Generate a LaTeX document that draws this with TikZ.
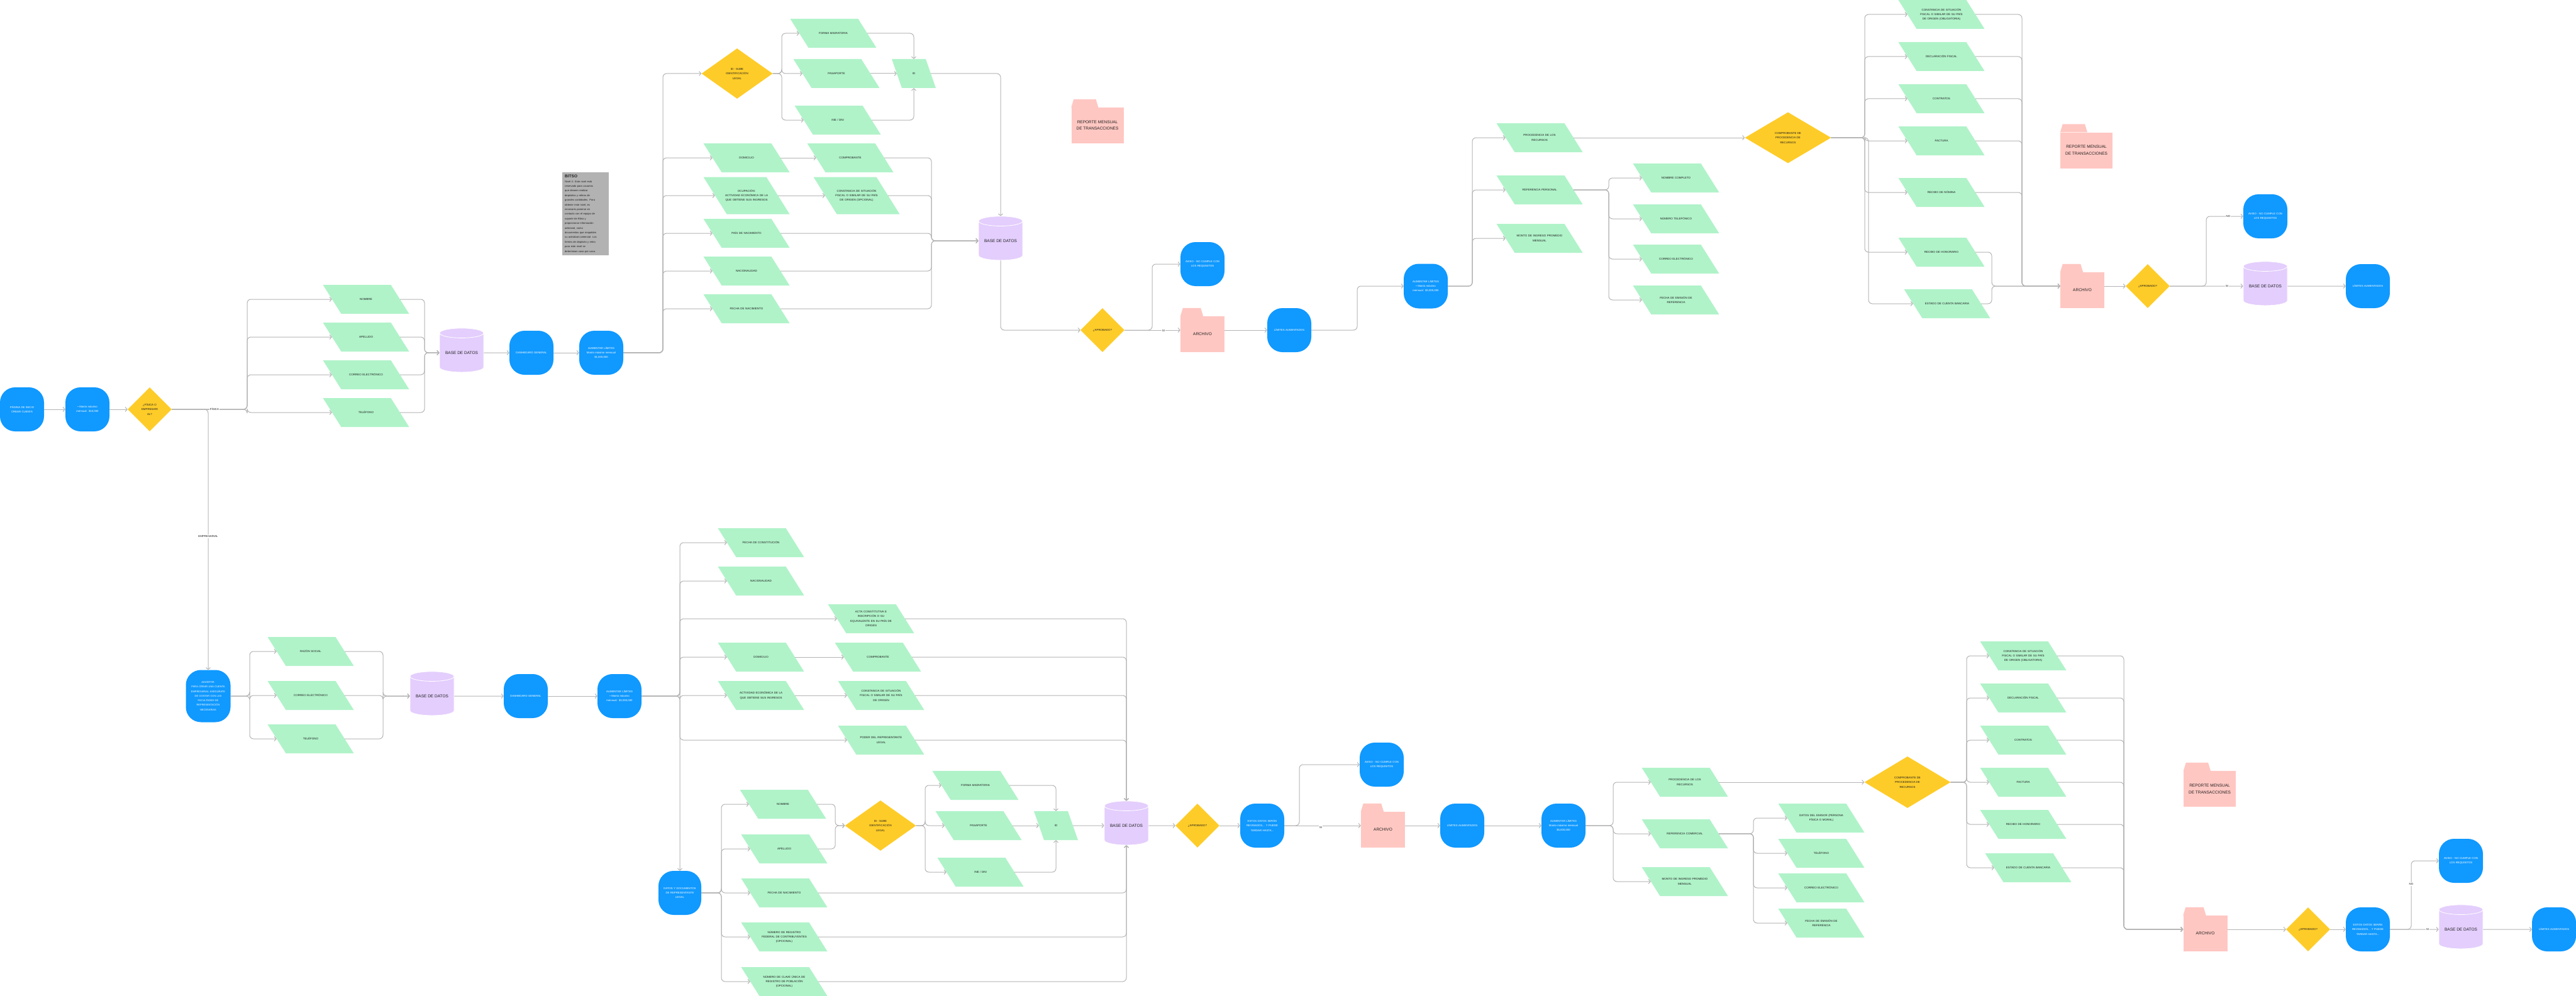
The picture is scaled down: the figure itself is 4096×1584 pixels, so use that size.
\documentclass[tikz,border=0pt]{standalone}
\usepackage{fontspec}
\setmainfont{Liberation Sans}
\usetikzlibrary{shapes.geometric,arrows.meta,calc}
\definecolor{cblue}{RGB}{16,153,255}
\definecolor{cgreen}{RGB}{176,243,201}
\definecolor{cyel}{RGB}{254,204,41}
\definecolor{cpur}{RGB}{228,206,253}
\definecolor{cpink}{RGB}{255,199,194}
\definecolor{cline}{RGB}{180,180,180}
\definecolor{cnote}{RGB}{178,178,178}
\definecolor{ctext}{RGB}{30,30,30}
\tikzset{
 blu/.style={rectangle, rounded corners=24pt, fill=cblue, text=white, minimum width=70pt, minimum height=70pt, inner sep=0pt, text width=66pt, align=center, font=\fontsize{4.3}{7.3}\selectfont},
 dia/.style={diamond, fill=cyel, inner sep=0pt, minimum width=70pt, minimum height=70pt, align=center, text=ctext, font=\fontsize{4.4}{7.5}\selectfont},
 db/.style={cylinder, shape border rotate=90, shape aspect=0.3, fill=cpur, draw=white, line width=0.8pt, minimum width=70pt, minimum height=70pt, inner sep=0pt, font=\fontsize{6.5}{8}\selectfont, text=ctext},
 pnode/.style={inner sep=0pt, align=center, font=\fontsize{4.5}{7.4}\selectfont, text=ctext},
 fold/.style={rectangle, fill=cpink, minimum height=57pt, inner sep=2pt, align=center, font=\fontsize{6.5}{10.5}\selectfont, text=ctext},
 c/.style={draw=cline, line width=1pt, rounded corners=6pt, -{Straight Barb[length=3pt,width=7pt]}},
 lbl/.style={fill=white, inner sep=1pt, font=\fontsize{4.4}{5}\selectfont, text=ctext},
 note/.style={fill=cnote, text width=66pt, inner sep=4pt, align=left, font=\fontsize{4.1}{7.4}\selectfont, text=ctext},
}
% #1 name, #2 x, #3 y, #4 total width, #5 height, #6 slant, #7 text
\newcommand\para[7]{%
  \fill[cgreen] ({#2-#4/2},{#3-#5/2}) -- ({#2+#4/2-#6},{#3-#5/2}) -- ({#2+#4/2},{#3+#5/2}) -- ({#2-#4/2+#6},{#3+#5/2}) -- cycle;
  \pgfmathsetmacro\pw{#4-#6}\pgfmathsetmacro\ptw{#4-#6-4}%
  \node[pnode,minimum width=\pw pt,minimum height=#5pt,text width=\ptw pt] (#1) at (#2,#3) {#7};}
\newcommand\gp[4]{\para{#1}{#2}{#3}{137}{46}{29}{#4}}
% #1 name, #2 x, #3 y(body centre), #4 width, #5 text
\newcommand\folder[5]{%
  \node[fold,minimum width=#4pt] (#1) at (#2,#3) {#5};
  \pgfmathsetmacro\tw{0.52*#4}%
  \fill[cpink] (#1.north west) -- ++(\tw,0) -- ++(-4,-13) -- ++({8-\tw},0) -- cycle;}
\begin{document}
\begin{tikzpicture}[x=1pt,y=-1pt]
\useasboundingbox (0,0) rectangle (4096,1584);
\fill[white] (0,0) rectangle (4096,1584);

% ================= TOP =================
\node[blu] (start) at (35,651) {PÁGINA DE INICIO\\CREAR CUENTA};
\node[blu] (n2) at (139,651) {• Monto máximo\\mensual: \$10,000};
\node[dia] (d1) at (238,651) {¿FÍSICA O\\EMPRESARI\\AL?};
\gp{nombre1}{582}{476}{NOMBRE}
\gp{apellido1}{582}{536}{APELLIDO}
\gp{correo1}{582}{596}{CORREO ELECTRÓNICO}
\gp{tel1}{582}{656}{TELÉFONO}
\node[db] (db1) at (734,561) {BASE DE DATOS};
\node[blu] (dash1) at (845,561) {DASHBOARD GENERAL};
\node[blu] (aum1) at (956,561) {AUMENTAR LÍMITES\\Monto máximo mensual\\\$1,000,000};
\node[note, anchor=north west] (note) at (894,274) {{\fontsize{6.5}{9}\selectfont\bfseries BITSO}\\Nivel 4: Este nivel está\\reservado para usuarios\\que deseen realizar\\depósitos y retiros de\\grandes cantidades. Para\\obtener este nivel, es\\necesario ponerse en\\contacto con el equipo de\\soporte de Bitso y\\proporcionar información\\adicional, como\\documentos que respalden\\su actividad comercial. Los\\límites de depósito y retiro\\para este nivel se\\determinan caso por caso.};
\node[dia, minimum width=113pt, minimum height=80pt] (did1) at (1172,117) {ID - SUBE\\IDENTIFICACIÓN\\LEGAL};
\gp{forma1}{1325}{53}{FORMA MIGRATORIA}
\gp{pas1}{1330}{117}{PASAPORTE}
\gp{ine1}{1332}{191}{INE / DNI}
\para{id1}{1453}{117}{70}{46}{16}{ID}
\gp{dom1}{1187}{251}{DOMICILIO}
\gp{comp1}{1352}{251}{COMPROBANTE}
\para{ocu1}{1187}{311}{137}{59}{37}{OCUPACIÓN:\\ACTIVIDAD ECONÓMICA DE LA\\QUE OBTIENE SUS INGRESOS}
\para{cons1}{1362}{311}{137}{59}{37}{CONSTANCIA DE SITUACIÓN\\FISCAL O SIMILAR DE SU PAÍS\\DE ORIGEN (OPCIONAL)}
\gp{pais1}{1187}{371}{PAÍS DE NACIMIENTO}
\gp{nac1}{1187}{431}{NACIONALIDAD}
\gp{fnac1}{1187}{491}{FECHA DE NACIMIENTO}
\node[db] (db2) at (1591,383) {BASE DE DATOS};
\folder{rep1}{1745}{199.5}{83}{REPORTE MENSUAL\\DE TRANSACCIONES}
\node[dia] (ap1) at (1753,525) {¿APROBADO?};
\node[blu] (aviso1) at (1912,420) {AVISO - NO CUMPLE CON\\LOS REQUISITOS};
\folder{archivo1}{1912}{531.5}{70}{ARCHIVO}
\node[blu] (lim1) at (2050,525) {LÍMITES AUMENTADOS};
\node[blu, minimum height=71pt] (aum2) at (2267,455) {AUMENTAR LÍMITES\\• Monto máximo\\mensual: \$3,000,000};
\gp{proc1}{2448}{219}{PROCEDENCIA DE LOS\\RECURSOS}
\gp{ref1}{2448}{302}{REFERENCIA PERSONAL}
\gp{monto1}{2448}{379}{MONTO DE INGRESO PROMEDIO\\MENSUAL}
\gp{ncomp}{2665}{283}{NOMBRE COMPLETO}
\gp{ntel}{2665}{348}{NÚMERO TELEFÓNICO}
\gp{ncorreo}{2665}{412}{CORREO ELECTRÓNICO}
\gp{fem1}{2665}{477}{FECHA DE EMISIÓN DE\\REFERENCIA}
\node[dia, minimum width=137pt, minimum height=81pt] (dcomp1) at (2843,219) {COMPROBANTE DE\\PROCEDENCIA DE\\RECURSOS};
\gp{cobl1}{3087}{23}{CONSTANCIA DE SITUACIÓN\\FISCAL O SIMILAR DE SU PAÍS\\DE ORIGEN (OBLIGATORIA)}
\gp{decl1}{3087}{90}{DECLARACIÓN FISCAL}
\gp{contr1}{3087}{157}{CONTRATOS}
\gp{fact1}{3087}{224}{FACTURA}
\gp{nom1}{3087}{306}{RECIBO DE NÓMINA}
\gp{hon1}{3087}{401}{RECIBO DE HONORARIO}
\gp{ecb1}{3096}{483}{ESTADO DE CUENTA BANCARIA}
\folder{rep2}{3317.5}{239}{83}{REPORTE MENSUAL\\DE TRANSACCIONES}
\folder{archivo2}{3311}{461.5}{70}{ARCHIVO}
\node[dia] (ap2) at (3415,455) {¿APROBADO?};
\node[blu] (aviso2) at (3602,344) {AVISO - NO CUMPLE CON\\LOS REQUISITOS};
\node[db] (db3) at (3602,455) {BASE DE DATOS};
\node[blu] (lim2) at (3765,455) {LÍMITES AUMENTADOS};

% ---- top connectors
\coordinate (b1) at (393,651);
\coordinate (m1) at (675,561);
\coordinate (b2) at (1054,561);
\coordinate (b3) at (1243,117);
\coordinate (m2) at (1481,383);
\coordinate (s1) at (1832,525);
\coordinate (s2) at (2158,525);
\coordinate (b4) at (2341,455);
\coordinate (b5) at (2558,302);
\coordinate (b6) at (2965,219);
\coordinate (b6b) at (2971,219);
\coordinate (m3) at (3215,455);
\coordinate (m3b) at (3167,455);
\coordinate (s3) at (3508,455);
\draw[c] (start.east) -- (n2.west);
\draw[c] (n2.east) -- (d1.west);
\foreach \t in {nombre1,apellido1,correo1,tel1}{\draw[c] (d1.east) -- (b1) |- (\t.west);}
\foreach \t in {nombre1,apellido1,correo1,tel1}{\draw[c] (\t.east) -| (m1) -- (db1.west);}
\draw[c] (db1.east) -- (dash1.west);
\draw[c] (dash1.east) -- (aum1.west);
\foreach \t in {did1,dom1,ocu1,pais1,nac1,fnac1}{\draw[c] (aum1.east) -- (b2) |- (\t.west);}
\foreach \t in {forma1,pas1,ine1}{\draw[c] (did1.east) -- (b3) |- (\t.west);}
\draw[c] (forma1.east) -| (id1.north);
\draw[c] (pas1.east) -- (id1.west);
\draw[c] (ine1.east) -| (id1.south);
\draw[c] (id1.east) -| (db2.north);
\draw[c] (dom1.east) -- (comp1.west);
\draw[c] (ocu1.east) -- (cons1.west);
\foreach \t in {comp1,cons1,pais1,nac1,fnac1}{\draw[c] (\t.east) -| (m2) -- (db2.west);}
\draw[c] (db2.south) |- (ap1.west);
\draw[c] (ap1.east) -- (s1) |- (aviso1.west);
\draw[c] (ap1.east) -- (ap1.east -| archivo1.west);
\draw[c] (archivo1.east |- lim1.west) -- (lim1.west);
\draw[c] (lim1.east) -- (s2) |- (aum2.west);
\foreach \t in {proc1,ref1,monto1}{\draw[c] (aum2.east) -- (b4) |- (\t.west);}
\foreach \t in {ncomp,ntel,ncorreo,fem1}{\draw[c] (ref1.east) -- (b5) |- (\t.west);}
\draw[c] (proc1.east) -- (dcomp1.west);
\foreach \t in {cobl1,decl1,contr1,fact1,nom1,hon1}{\draw[c] (dcomp1.east) -- (b6) |- (\t.west);}
\draw[c] (dcomp1.east) -- (b6b) |- (ecb1.west);
\foreach \t in {cobl1,decl1,contr1,fact1,nom1}{\draw[c] (\t.east) -| (m3) -- (archivo2.west |- m3);}
\foreach \t in {hon1,ecb1}{\draw[c] (\t.east) -| (m3b) -- (archivo2.west |- m3b);}
\draw[c] (archivo2.east |- ap2.west) -- (ap2.west);
\draw[c] (ap2.east) -- (s3) |- (aviso2.west);
\draw[c] (ap2.east) -- (db3.west);
\draw[c] (db3.east) -- (lim2.west);

% ================= BOTTOM =================
\node[blu, minimum width=71pt, minimum height=83pt, font=\fontsize{4}{7.3}\selectfont] (adv) at (331,1107) {ADVERTIR:\\PARA CREAR UNA CUENTA\\EMPRESARIAL ASEGÚRATE\\DE CONTAR CON LAS\\FACULTADES DE\\REPRESENTACIÓN\\NECESARIAS};
\draw[c] (d1.east) -| (adv.north);
\gp{raz}{494}{1036}{RAZÓN SOCIAL}
\gp{correo2}{494}{1106}{CORREO ELECTRÓNICO}
\gp{tel2}{494}{1175}{TELÉFONO}
\node[db] (db4) at (687,1107) {BASE DE DATOS};
\node[blu] (dash2) at (836,1107) {DASHBOARD GENERAL};
\node[blu] (aum3) at (985,1107) {AUMENTAR LÍMITES\\• Monto máximo\\mensual: \$3,000,000};
\gp{fcons}{1210}{863}{FECHA DE CONSTITUCIÓN}
\gp{nac2}{1210}{924}{NACIONALIDAD}
\gp{acta}{1385}{984}{ACTA CONSTITUTIVA E\\INSCRIPCIÓN O SU\\EQUIVALENTE EN SU PAÍS DE\\ORIGEN}
\gp{dom2}{1210}{1045}{DOMICILIO}
\gp{comp2}{1396}{1045}{COMPROBANTE}
\gp{act2}{1210}{1106}{ACTIVIDAD ECONÓMICA DE LA\\QUE OBTIENE SUS INGRESOS}
\gp{cons2}{1401}{1106}{CONSTANCIA DE SITUACIÓN\\FISCAL O SIMILAR DE SU PAÍS\\DE ORIGEN}
\gp{poder}{1401}{1177}{PODER DEL REPRESENTANTE\\LEGAL}
\node[blu, minimum width=68pt] (datos) at (1081,1420) {DATOS Y DOCUMENTOS\\DE REPRESENTANTE\\LEGAL};
\gp{nom2}{1245}{1279}{NOMBRE}
\gp{ape2}{1247}{1350}{APELLIDO}
\gp{fnac2}{1247}{1420}{FECHA DE NACIMIENTO}
\gp{rfc}{1247}{1490}{NÚMERO DE REGISTRO\\FEDERAL DE CONTRIBUYENTES\\(OPCIONAL)}
\gp{curp}{1247}{1561}{NÚMERO DE CLAVE ÚNICA DE\\REGISTRO DE POBLACIÓN\\(OPCIONAL)}
\node[dia, minimum width=113pt, minimum height=80pt] (did2) at (1400,1313) {ID - SUBE\\IDENTIFICACIÓN\\LEGAL};
\gp{forma2}{1551}{1249}{FORMA MIGRATORIA}
\gp{pas2}{1556}{1313}{PASAPORTE}
\gp{ine2}{1559}{1387}{INE / DNI}
\para{id2}{1679}{1313}{70}{46}{16}{ID}
\node[db] (db5) at (1791,1313) {BASE DE DATOS};
\node[dia] (ap3) at (1904,1313) {¿APROBADO?};
\node[blu] (est1) at (2007,1313) {ESTOS DATOS SERÁN\\REVISADOS... Y PUEDE\\TARDAR HASTA...};
\node[blu] (aviso3) at (2197,1216) {AVISO - NO CUMPLE CON\\LOS REQUISITOS};
\folder{archivo3}{2199}{1319.5}{70}{ARCHIVO}
\node[blu] (lim3) at (2325,1313) {LÍMITES AUMENTADOS};
\node[blu] (aum4) at (2486,1313) {AUMENTAR LÍMITES\\Monto máximo mensual\\\$5,000,000};
\gp{proc2}{2679}{1244}{PROCEDENCIA DE LOS\\RECURSOS}
\gp{refc}{2679}{1326}{REFERENCIA COMERCIAL}
\gp{monto2}{2679}{1402}{MONTO DE INGRESO PROMEDIO\\MENSUAL}
\gp{demi}{2896}{1301}{DATOS DEL EMISOR (PERSONA\\FÍSICA O MORAL)}
\gp{tel3}{2896}{1357}{TELÉFONO}
\gp{correo3}{2896}{1412}{CORREO ELECTRÓNICO}
\gp{fem2}{2896}{1468}{FECHA DE EMISIÓN DE\\REFERENCIA}
\node[dia, minimum width=137pt, minimum height=82pt] (dcomp2) at (3033,1244) {COMPROBANTE DE\\PROCEDENCIA DE\\RECURSOS};
\gp{cobl2}{3217}{1043}{CONSTANCIA DE SITUACIÓN\\FISCAL O SIMILAR DE SU PAÍS\\DE ORIGEN (OBLIGATORIA)}
\gp{decl2}{3217}{1110}{DECLARACIÓN FISCAL}
\gp{contr2}{3217}{1177}{CONTRATOS}
\gp{fact2}{3217}{1244}{FACTURA}
\gp{hon2}{3217}{1311}{RECIBO DE HONORARIO}
\gp{ecb2}{3225}{1380}{ESTADO DE CUENTA BANCARIA}
\folder{rep3}{3513.5}{1254.5}{83}{REPORTE MENSUAL\\DE TRANSACCIONES}
\folder{archivo4}{3506.5}{1484.5}{70}{ARCHIVO}
\node[dia] (ap4) at (3670,1478) {¿APROBADO?};
\node[blu] (est2) at (3765,1478) {ESTOS DATOS SERÁN\\REVISADOS... Y PUEDE\\TARDAR HASTA...};
\node[blu] (aviso4) at (3913,1369) {AVISO - NO CUMPLE CON\\LOS REQUISITOS};
\node[db] (db6) at (3913,1478) {BASE DE DATOS};
\node[blu] (lim4) at (4061,1478) {LÍMITES AUMENTADOS};

% ---- bottom connectors
\coordinate (b7) at (397,1107);
\coordinate (m4) at (609,1107);
\coordinate (b8) at (1081,1107);
\coordinate (b9) at (1147,1420);
\coordinate (m6) at (1328,1313);
\coordinate (b10) at (1471,1313);
\coordinate (s4) at (2066,1313);
\coordinate (b11) at (2565,1313);
\coordinate (b12) at (2788,1326);
\coordinate (b13) at (3127,1244);
\coordinate (m7) at (3377,1478);
\coordinate (s5) at (3834,1478);
\foreach \t in {raz,correo2,tel2}{\draw[c] (adv.east) -- (b7) |- (\t.west);}
\foreach \t in {raz,correo2,tel2}{\draw[c] (\t.east) -| (m4) -- (db4.west);}
\draw[c] (db4.east) -- (dash2.west);
\draw[c] (dash2.east) -- (aum3.west);
\foreach \t in {fcons,nac2,acta,dom2,act2,poder}{\draw[c] (aum3.east) -- (b8) |- (\t.west);}
\draw[c] (aum3.east) -- (b8) -- (datos.north);
\draw[c] (dom2.east) -- (comp2.west);
\draw[c] (act2.east) -- (cons2.west);
\foreach \t in {acta,comp2,cons2,poder}{\draw[c] (\t.east) -| (db5.north);}
\foreach \t in {nom2,ape2,fnac2,rfc,curp}{\draw[c] (datos.east) -- (b9) |- (\t.west);}
\foreach \t in {nom2,ape2}{\draw[c] (\t.east) -| (m6) -- (did2.west);}
\foreach \t in {forma2,pas2,ine2}{\draw[c] (did2.east) -- (b10) |- (\t.west);}
\draw[c] (forma2.east) -| (id2.north);
\draw[c] (pas2.east) -- (id2.west);
\draw[c] (ine2.east) -| (id2.south);
\draw[c] (id2.east) -- (db5.west);
\foreach \t in {fnac2,rfc,curp}{\draw[c] (\t.east) -| (db5.south);}
\draw[c] (db5.east) -- (ap3.west);
\draw[c] (ap3.east) -- (est1.west);
\draw[c] (est1.east) -- (s4) |- (aviso3.west);
\draw[c] (est1.east) -- (est1.east -| archivo3.west);
\draw[c] (archivo3.east |- lim3.west) -- (lim3.west);
\draw[c] (lim3.east) -- (aum4.west);
\foreach \t in {proc2,refc,monto2}{\draw[c] (aum4.east) -- (b11) |- (\t.west);}
\foreach \t in {demi,tel3,correo3,fem2}{\draw[c] (refc.east) -- (b12) |- (\t.west);}
\draw[c] (proc2.east) -- (dcomp2.west);
\foreach \t in {cobl2,decl2,contr2,fact2,hon2,ecb2}{\draw[c] (dcomp2.east) -- (b13) |- (\t.west);}
\foreach \t in {cobl2,decl2,contr2,fact2,hon2,ecb2}{\draw[c] (\t.east) -| (m7) -- (archivo4.west |- m7);}
\draw[c] (archivo4.east |- ap4.west) -- (ap4.west);
\draw[c] (ap4.east) -- (est2.west);
\draw[c] (est2.east) -- (s5) |- (aviso4.west);
\draw[c] (est2.east) -- (db6.west);
\draw[c] (db6.east) -- (lim4.west);

% ---- labels
\node[lbl] (lfis) at (341,651) {FÍSICA};
\node[lbl] (lemp) at (331,853) {EMPRESARIAL};
\node[lbl] (lsi1) at (1850,526) {SI};
\node[lbl] (lno2) at (3543,344) {NO};
\node[lbl] (lsi2) at (3541,455) {SI};
\node[lbl] (lsi3) at (2100,1316) {SI};
\node[lbl] (lno4) at (3834,1406) {NO};
\node[lbl] (lsi4) at (3860,1478) {SI};
\end{tikzpicture}
\end{document}
